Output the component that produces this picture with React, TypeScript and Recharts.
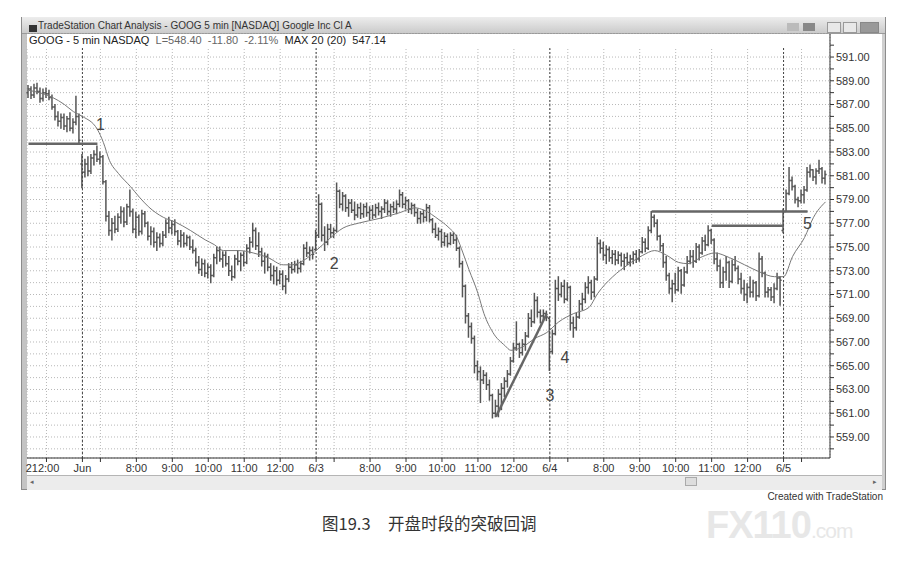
import React from "react";
import { ComposedChart, Bar, Line, XAxis, YAxis, CartesianGrid, ReferenceLine, ReferenceDot } from "recharts";

// 5-minute bars, [open, high, low, close]
const may30 = [
  [588.0, 588.6, 587.6, 588.3], [588.3, 588.5, 587.5, 587.8], [587.8, 588.7, 587.6, 588.4], [588.4, 588.8, 587.9, 588.1],
  [588.1, 588.4, 587.2, 587.5], [587.5, 588.3, 587.3, 588.0], [588.0, 588.4, 587.6, 587.9], [587.9, 588.2, 587.4, 587.6],
  [587.6, 587.8, 586.6, 586.8], [586.8, 587.0, 585.7, 586.0], [586.0, 586.4, 585.2, 585.6], [585.6, 586.2, 585.0, 585.9],
  [585.9, 586.2, 584.9, 585.2], [585.2, 586.0, 584.7, 585.8], [585.8, 586.3, 584.8, 585.0], [585.0, 585.8, 584.6, 585.5],
  [585.5, 587.7, 585.3, 586.0], [586.0, 586.2, 583.8, 584.0],
];

const jun2 = [
  [582.0, 582.8, 580.0, 581.3], [581.3, 582.4, 580.9, 582.0], [582.0, 582.6, 581.0, 581.4], [581.4, 582.8, 581.2, 582.5],
  [582.5, 583.1, 581.9, 582.8], [582.8, 583.5, 582.2, 582.4], [582.4, 583.0, 582.0, 582.6], [582.6, 582.7, 580.3, 580.5],
  [580.5, 580.6, 577.2, 577.6], [577.6, 578.0, 576.0, 576.4], [576.4, 577.4, 575.6, 577.0], [577.0, 577.6, 576.2, 576.5],
  [576.5, 577.8, 576.3, 577.5], [577.5, 578.4, 577.0, 578.0], [578.0, 578.3, 576.7, 577.1], [577.1, 578.6, 576.9, 578.4],
  [578.4, 579.8, 577.6, 578.0], [578.0, 578.2, 576.2, 576.5], [576.5, 577.9, 575.8, 577.5], [577.5, 577.7, 576.0, 576.3],
  [576.3, 578.1, 576.1, 577.8], [577.8, 578.0, 576.7, 577.0], [577.0, 577.1, 575.6, 575.9], [575.9, 576.7, 575.2, 576.3],
  [576.3, 576.6, 575.0, 575.4], [575.4, 576.2, 574.7, 575.8], [575.8, 576.1, 575.0, 575.3], [575.3, 576.3, 575.1, 576.0],
  [576.0, 577.3, 575.8, 577.0], [577.0, 577.5, 576.2, 576.6], [576.6, 577.2, 576.1, 576.9], [576.9, 577.3, 576.0, 576.3],
  [576.3, 576.4, 575.2, 575.5], [575.5, 576.4, 575.0, 576.0], [576.0, 576.2, 575.0, 575.3], [575.3, 576.0, 575.1, 575.8],
  [575.8, 575.9, 574.8, 575.0], [575.0, 575.6, 574.5, 574.7], [574.7, 574.9, 573.4, 573.7], [573.7, 574.2, 572.8, 573.1],
  [573.1, 574.0, 572.6, 573.6], [573.6, 573.9, 572.5, 572.8], [572.8, 573.6, 572.4, 573.3], [573.3, 573.5, 572.0, 572.6],
  [572.6, 574.4, 572.5, 574.1], [574.1, 575.0, 573.6, 574.7], [574.7, 575.0, 573.8, 574.0], [574.0, 574.6, 573.3, 574.3],
  [574.3, 574.6, 573.4, 573.6], [573.6, 574.2, 572.6, 573.0], [573.0, 573.4, 572.2, 572.5], [572.5, 574.3, 572.4, 574.0],
  [574.0, 574.7, 573.5, 573.8], [573.8, 574.5, 573.0, 574.3], [574.3, 574.6, 573.4, 573.7], [573.7, 575.2, 573.6, 574.9],
  [574.9, 575.8, 574.5, 575.4], [575.4, 577.0, 575.0, 576.4], [576.4, 576.6, 574.8, 575.1], [575.1, 576.2, 574.2, 574.6],
  [574.6, 574.9, 573.4, 573.8], [573.8, 574.5, 572.8, 574.2], [574.2, 574.4, 573.0, 573.3], [573.3, 573.6, 572.2, 572.6],
  [572.6, 573.4, 571.9, 573.0], [573.0, 573.3, 571.8, 572.2], [572.2, 573.0, 571.9, 572.7], [572.7, 573.0, 571.4, 571.7],
  [571.7, 572.6, 571.1, 572.3], [572.3, 573.6, 572.1, 573.3], [573.3, 573.7, 572.8, 573.1], [573.1, 573.8, 572.9, 573.5],
  [573.5, 573.9, 572.8, 573.2], [573.2, 573.8, 572.9, 573.6], [573.6, 575.2, 573.5, 574.9], [574.9, 575.4, 574.2, 574.5],
  [574.5, 575.0, 573.9, 574.7], [574.7, 575.0, 574.0, 574.4],
];

const jun3 = [
  [574.8, 576.4, 574.7, 576.0], [576.0, 579.4, 575.8, 578.6], [578.6, 578.7, 575.5, 576.0], [576.0, 576.7, 574.7, 575.4],
  [575.4, 576.9, 575.2, 576.5], [576.5, 576.9, 575.8, 576.2], [576.2, 576.6, 575.8, 576.4], [576.4, 580.4, 576.3, 579.7],
  [579.7, 579.8, 578.3, 578.6], [578.6, 579.6, 578.1, 579.3], [579.3, 579.4, 578.0, 578.3], [578.3, 579.0, 577.6, 578.7],
  [578.7, 579.0, 577.9, 578.1], [578.1, 578.8, 577.3, 577.7], [577.7, 578.6, 577.5, 578.3], [578.3, 578.7, 577.4, 577.8],
  [577.8, 578.6, 577.5, 578.4], [578.4, 578.7, 577.6, 577.9], [577.9, 578.4, 577.3, 578.1], [578.1, 578.5, 577.4, 577.7],
  [577.7, 578.6, 577.5, 578.3], [578.3, 578.7, 577.7, 578.0], [578.0, 578.4, 577.4, 578.2], [578.2, 579.0, 577.9, 578.7],
  [578.7, 578.9, 577.7, 578.0], [578.0, 578.6, 577.6, 578.4], [578.4, 578.8, 577.9, 578.2], [578.2, 578.9, 577.8, 578.6],
  [578.6, 579.8, 578.4, 579.4], [579.4, 579.6, 578.3, 578.6], [578.6, 579.2, 578.2, 578.9], [578.9, 579.0, 577.9, 578.2],
  [578.2, 578.7, 577.8, 578.5], [578.5, 578.6, 577.6, 577.9], [577.9, 578.2, 577.0, 577.4], [577.4, 578.0, 577.0, 577.8],
  [577.8, 578.1, 577.1, 577.5], [577.5, 578.6, 577.2, 578.3], [578.3, 578.5, 577.1, 577.3], [577.3, 577.4, 576.2, 576.5],
  [576.5, 577.0, 575.8, 576.0], [576.0, 576.6, 575.6, 576.3], [576.3, 576.5, 575.0, 575.4], [575.4, 576.2, 575.1, 575.9],
  [575.9, 576.1, 575.0, 575.3], [575.3, 576.2, 575.2, 576.0], [576.0, 576.2, 575.3, 575.6], [575.6, 576.0, 574.7, 574.9],
  [574.9, 575.0, 573.3, 573.6], [573.6, 573.8, 570.8, 571.7], [571.7, 571.8, 568.6, 569.2], [569.2, 569.4, 567.4, 568.3],
  [568.3, 568.6, 566.9, 567.3], [567.3, 567.5, 564.4, 565.0], [565.0, 565.4, 563.8, 564.5], [564.5, 564.9, 561.9, 563.8],
  [563.8, 564.6, 563.5, 564.2], [564.2, 564.4, 563.0, 563.4], [563.4, 563.8, 562.1, 562.5], [562.5, 562.6, 560.6, 561.0],
  [561.0, 562.1, 560.7, 561.6], [561.6, 563.0, 560.7, 562.6], [562.6, 563.5, 561.3, 563.1], [563.1, 564.0, 562.4, 563.7],
  [563.7, 564.6, 563.2, 564.3], [564.3, 565.7, 564.2, 565.4], [565.4, 566.9, 565.3, 566.5], [566.5, 568.7, 566.3, 566.8],
  [566.8, 566.9, 565.7, 566.1], [566.1, 567.2, 565.9, 566.8], [566.8, 567.8, 566.3, 567.5], [567.5, 569.4, 567.4, 569.0],
  [569.0, 569.7, 568.3, 568.7], [568.7, 571.1, 568.6, 570.5], [570.5, 570.8, 569.1, 569.5], [569.5, 569.7, 568.6, 569.2],
  [569.2, 569.7, 568.9, 569.4], [569.4, 569.6, 568.8, 569.1],
];

const jun4 = [
  [569.0, 569.1, 564.6, 566.2], [566.2, 568.0, 566.0, 567.7], [567.7, 572.2, 567.6, 571.5], [571.5, 572.5, 570.5, 571.0],
  [571.0, 572.0, 570.8, 571.7], [571.7, 572.2, 570.3, 570.6], [570.6, 572.0, 570.5, 571.6], [571.6, 571.7, 568.0, 568.6],
  [568.6, 569.1, 567.4, 568.2], [568.2, 569.4, 568.0, 569.1], [569.1, 570.5, 569.0, 570.2], [570.2, 571.1, 569.7, 570.6],
  [570.6, 572.0, 570.3, 571.6], [571.6, 572.5, 571.1, 572.0], [572.0, 572.2, 570.6, 571.2], [571.2, 572.5, 570.8, 572.3],
  [572.3, 575.8, 572.2, 575.3], [575.3, 575.6, 574.5, 574.9], [574.9, 575.4, 573.9, 574.3], [574.3, 575.1, 573.6, 574.8],
  [574.8, 575.0, 573.8, 574.1], [574.1, 574.7, 573.6, 574.4], [574.4, 574.7, 573.5, 573.9], [573.9, 574.6, 573.6, 574.3],
  [574.3, 574.5, 573.4, 573.8], [573.8, 574.4, 573.1, 574.1], [574.1, 574.5, 573.5, 573.7], [573.7, 574.3, 573.4, 574.0],
  [574.0, 574.6, 573.6, 574.4], [574.4, 574.7, 573.7, 574.0], [574.0, 574.8, 573.8, 574.6], [574.6, 575.8, 574.5, 575.4],
  [575.4, 575.7, 574.6, 574.9], [574.9, 576.7, 574.8, 576.4], [576.4, 578.0, 576.2, 577.5], [577.5, 577.7, 576.7, 577.0],
  [577.0, 577.3, 575.6, 575.9], [575.9, 576.0, 574.7, 575.1], [575.1, 575.3, 573.3, 573.7], [573.7, 574.2, 572.2, 572.6],
  [572.6, 572.8, 571.1, 571.5], [571.5, 572.2, 570.4, 571.9], [571.9, 572.8, 571.1, 571.4], [571.4, 573.3, 571.3, 573.0],
  [573.0, 573.1, 571.1, 571.8], [571.8, 573.3, 571.7, 572.9], [572.9, 574.2, 572.8, 573.8], [573.8, 574.7, 573.6, 574.2],
  [574.2, 574.7, 573.3, 573.8], [573.8, 575.3, 573.7, 575.0], [575.0, 575.2, 573.9, 574.5], [574.5, 575.8, 574.4, 575.5],
  [575.5, 576.0, 574.7, 575.2], [575.2, 576.8, 575.1, 576.4], [576.4, 576.5, 575.3, 575.6], [575.6, 575.7, 573.6, 574.0],
  [574.0, 574.5, 573.0, 573.4], [573.4, 573.9, 571.6, 572.0], [572.0, 573.3, 571.6, 572.9], [572.9, 574.2, 572.2, 573.7],
  [573.7, 573.8, 571.6, 572.1], [572.1, 573.9, 572.0, 573.5], [573.5, 574.2, 573.0, 573.2], [573.2, 573.4, 571.9, 572.3],
  [572.3, 572.8, 571.1, 571.5], [571.5, 572.2, 570.5, 571.0], [571.0, 571.9, 570.3, 571.6], [571.6, 572.5, 570.8, 571.2],
  [571.2, 572.2, 570.8, 572.0], [572.0, 572.1, 570.5, 570.9], [570.9, 574.5, 570.8, 574.0], [574.0, 574.2, 572.5, 572.8],
  [572.8, 572.9, 570.8, 571.2], [571.2, 571.6, 570.8, 571.4], [571.4, 571.6, 570.5, 570.8], [570.8, 571.9, 570.3, 571.5],
  [571.5, 572.8, 571.4, 572.4], [572.4, 572.5, 570.1, 572.2],
];

const jun5 = [
  [576.4, 578.2, 576.2, 578.0], [578.0, 579.8, 578.0, 579.5], [579.5, 581.7, 579.4, 580.6], [580.6, 580.9, 579.8, 580.1],
  [580.1, 580.2, 578.7, 579.0], [579.0, 579.2, 578.4, 578.9], [578.9, 579.8, 578.7, 579.4], [579.4, 580.1, 578.7, 579.8],
  [579.8, 581.7, 579.7, 581.3], [581.3, 581.9, 580.9, 581.5], [581.5, 581.5, 580.6, 580.9], [580.9, 581.6, 580.3, 581.4],
  [581.4, 582.3, 581.2, 581.6], [581.6, 581.7, 580.4, 580.8], [580.8, 581.4, 580.3, 581.1],
];

// MAX 20 moving average at these bar indices
const maIdx = [0, 8, 12, 15, 18, 23, 25, 27, 30, 34, 37, 40, 45, 49, 54, 59, 62, 65, 70, 75, 80, 85, 88, 92, 96, 100, 105, 110, 117, 124, 129, 132, 137, 140, 143, 145, 147, 150, 152, 155, 159, 161, 165, 169, 173, 177, 182, 187, 190, 195, 200, 205, 209, 213, 217, 220, 225, 229, 234, 239, 244, 249, 252, 255, 259, 262, 266];
const maVal = [588.2, 587.6, 587.0, 586.4, 586.0, 584.9, 583.8, 582.3, 581.2, 580.1, 579.2, 578.4, 577.5, 577.1, 576.4, 575.6, 575.2, 574.7, 574.7, 574.5, 574.1, 573.5, 573.5, 573.9, 574.7, 575.6, 576.6, 577.0, 577.4, 577.9, 578.3, 578.1, 577.3, 576.7, 575.8, 574.5, 573.1, 571.1, 569.4, 567.8, 566.7, 566.3, 566.6, 567.3, 567.8, 568.7, 569.4, 569.9, 571.1, 572.5, 573.5, 574.3, 574.7, 574.3, 573.7, 573.6, 574.2, 574.5, 574.1, 573.5, 572.9, 572.5, 572.5, 574.2, 575.8, 577.5, 578.8];

const sessionStarts = [18, 96, 174, 252];
const tickIdx = [6, 18, 24, 36, 48, 60, 72, 84, 96, 102, 114, 126, 138, 150, 162, 174, 180, 192, 204, 216, 228, 240, 252, 258];
const tickLab = ["212:00", "Jun", "", "8:00", "9:00", "10:00", "11:00", "12:00", "6/3", "", "8:00", "9:00", "10:00", "11:00", "12:00", "6/4", "", "8:00", "9:00", "10:00", "11:00", "12:00", "6/5", ""];
const priceTicks = [558, 559, 560, 561, 562, 563, 564, 565, 566, 567, 568, 569, 570, 571, 572, 573, 574, 575, 576, 577, 578, 579, 580, 581, 582, 583, 584, 585, 586, 587, 588, 589, 590, 591, 592];

const bars = [...may30, ...jun2, ...jun3, ...jun4, ...jun5];
const rows: any[] = bars.map((b, i) => ({ i, o: b[0], h: b[1], l: b[2], c: b[3], hl: [b[2], b[1]] }));
rows.push({ i: rows.length });
maIdx.forEach((k, j) => { rows[k].ma = maVal[j]; });

const INK = "#555";

const OhlcShape = (props: any) => {
  const { x, y, width, height, payload } = props;
  if (payload == null || payload.h == null) return null;
  const top = Math.min(y, y + height);
  const bot = Math.max(y, y + height);
  const span = payload.h - payload.l || 1;
  const py = (v: number) => top + ((payload.h - v) / span) * (bot - top);
  const cx = x + width / 2;
  return (
    <g stroke={INK} strokeWidth={1.5}>
      <line x1={cx} x2={cx} y1={top - 0.5} y2={bot + 0.5} />
      <line x1={cx - 1.6} x2={cx} y1={py(payload.o)} y2={py(payload.o)} />
      <line x1={cx} x2={cx + 1.6} y1={py(payload.c)} y2={py(payload.c)} />
    </g>
  );
};

const TimeTick = (props: any) => {
  const { x, y, payload } = props;
  const k = tickIdx.indexOf(payload.value);
  return (
    <text x={x + (k === 0 ? -4 : 0)} y={y} dy="0.71em" textAnchor="middle" fontSize={11} fill="#333">
      {tickLab[k] ?? ""}
    </text>
  );
};

const num = (v: string, x: number, y: number) => ({ value: v, x, y });
const marks = [num("1", 24, 585.3), num("2", 102, 573.65), num("3", 174, 562.5), num("4", 179, 565.7), num("5", 260, 577.0)];

export default function App() {
  const font = '"Liberation Sans", Arial, sans-serif';
  const cjk = '"Noto Sans CJK SC", sans-serif';
  return (
    <div style={{ position: "absolute", left: 0, top: 0, width: 898, height: 574, background: "#fff", overflow: "hidden", fontFamily: font }}>
      {/* window frame */}
      <div style={{ position: "absolute", left: 21, top: 17, width: 865, height: 473, border: "1px solid #8c8c8c", boxSizing: "border-box", background: "#fff" }} />
      <div style={{ position: "absolute", left: 22, top: 33, width: 5, height: 456, background: "#c4c4c4" }} />
      <div style={{ position: "absolute", left: 882, top: 33, width: 3, height: 456, background: "#cfcfcf" }} />
      <div style={{ position: "absolute", left: 22, top: 17, width: 863, height: 16, background: "linear-gradient(#ededed,#cbcbcb)", borderBottom: "1px solid #9a9a9a" }}>
        <div style={{ position: "absolute", left: 7, top: 8, width: 8, height: 7, background: "#333" }} />
        <div style={{ position: "absolute", left: 16, top: 3, fontSize: 10, color: "#333", whiteSpace: "nowrap" }}>
          TradeStation Chart Analysis - GOOG 5 min [NASDAQ] Google Inc Cl A
        </div>
        <div style={{ position: "absolute", left: 765, top: 6, width: 12, height: 8, background: "#bbb" }} />
        <div style={{ position: "absolute", left: 781, top: 6, width: 12, height: 8, background: "#888" }} />
        <div style={{ position: "absolute", left: 805, top: 5, width: 12, height: 9, border: "1px solid #999", background: "#e8e8e8" }} />
        <div style={{ position: "absolute", left: 821, top: 5, width: 12, height: 9, border: "1px solid #999", background: "#e8e8e8" }} />
        <div style={{ position: "absolute", left: 838, top: 5, width: 17, height: 9, border: "1px solid #888", background: "#999" }} />
      </div>

      {/* scrollbar */}
      <div style={{ position: "absolute", left: 27, top: 475, width: 855, height: 14, background: "#ececec", borderTop: "1px solid #b5b5b5" }}>
        <div style={{ position: "absolute", left: 3, top: 2, fontSize: 7, color: "#666" }}>◂</div>
        <div style={{ position: "absolute", left: 846, top: 2, fontSize: 7, color: "#666" }}>▸</div>
        <div style={{ position: "absolute", left: 658, top: 1, width: 10, height: 7, background: "#ddd", border: "1px solid #aaa" }} />
      </div>

      <div style={{ position: "absolute", left: 0, top: 0 }}>
        <ComposedChart width={898} height={490} data={rows} margin={{ top: 34, right: 13, bottom: 12, left: 27 }} barCategoryGap={0}>
          <CartesianGrid stroke="#b8b8b8" strokeDasharray="1 2" />
          <XAxis dataKey="i" type="category" ticks={tickIdx} interval={0} tick={<TimeTick />} height={20} tickSize={4} axisLine={{ stroke: "#333" }} tickLine={{ stroke: "#333" }} />
          <YAxis orientation="right" width={55} domain={[557.23, 592.94]} allowDataOverflow ticks={priceTicks} interval={0}
            tickFormatter={(v: number) => (v % 2 === 1 ? v.toFixed(2) : "")} tick={{ fontSize: 11, fill: "#333", fontFamily: font }}
            tickSize={4} axisLine={{ stroke: "#333" }} tickLine={{ stroke: "#333" }} />
          {sessionStarts.map((s) => (
            <ReferenceLine key={s} x={s} stroke="#444" strokeDasharray="2 2" />
          ))}
          <Line dataKey="ma" type="monotone" stroke="#777" strokeWidth={1} dot={false} connectNulls isAnimationActive={false} />
          <Bar dataKey="hl" barSize={2} shape={<OhlcShape />} isAnimationActive={false} />
          <ReferenceLine segment={[{ x: 0, y: 583.7 }, { x: 23, y: 583.7 }]} stroke="#666" strokeWidth={2.5} />
          <ReferenceLine segment={[{ x: 208, y: 578.0 }, { x: 260, y: 578.0 }]} stroke="#666" strokeWidth={2.5} />
          <ReferenceLine segment={[{ x: 228, y: 576.8 }, { x: 252, y: 576.8 }]} stroke="#666" strokeWidth={2.5} />
          <ReferenceLine segment={[{ x: 156, y: 560.7 }, { x: 173, y: 569.4 }]} stroke="#666" strokeWidth={2.5} />
          {marks.map((m) => (
            <ReferenceDot key={m.value} x={m.x} y={m.y} r={1} fill="none" stroke="none"
              label={{ value: m.value, position: "center", fontSize: 16, fill: "#444", fontFamily: font }} />
          ))}
        </ComposedChart>
      </div>

      {/* legend line */}
      <div style={{ position: "absolute", left: 27, top: 34, width: 802, height: 13, background: "#fff" }} />
      <div style={{ position: "absolute", left: 29, top: 34, fontSize: 11, color: "#222", whiteSpace: "pre" }}>
        {"GOOG - 5 min NASDAQ  "}
        <span style={{ color: "#666" }}>{"L=548.40  -11.80  -2.11%"}</span>
        {"  MAX 20 (20)  547.14"}
      </div>

      <div style={{ position: "absolute", right: 15, top: 492, fontSize: 10, lineHeight: "10px", color: "#333" }}>Created with TradeStation</div>

      {/* watermark */}
      <div style={{ position: "absolute", left: 706, top: 510, fontSize: 38, lineHeight: "30px", fontWeight: 700, color: "#e7e7e7", whiteSpace: "nowrap", letterSpacing: -1 }}>
        FX110<span style={{ fontSize: 21, fontWeight: 400 }}>.com</span>
      </div>

      <div style={{ position: "absolute", left: 322, top: 511, fontSize: 16.5, color: "#333", fontFamily: cjk, whiteSpace: "nowrap" }}>图19.3</div>
      <div style={{ position: "absolute", left: 388, top: 511, fontSize: 16.5, color: "#333", fontFamily: cjk, whiteSpace: "nowrap" }}>开盘时段的突破回调</div>
    </div>
  );
}
